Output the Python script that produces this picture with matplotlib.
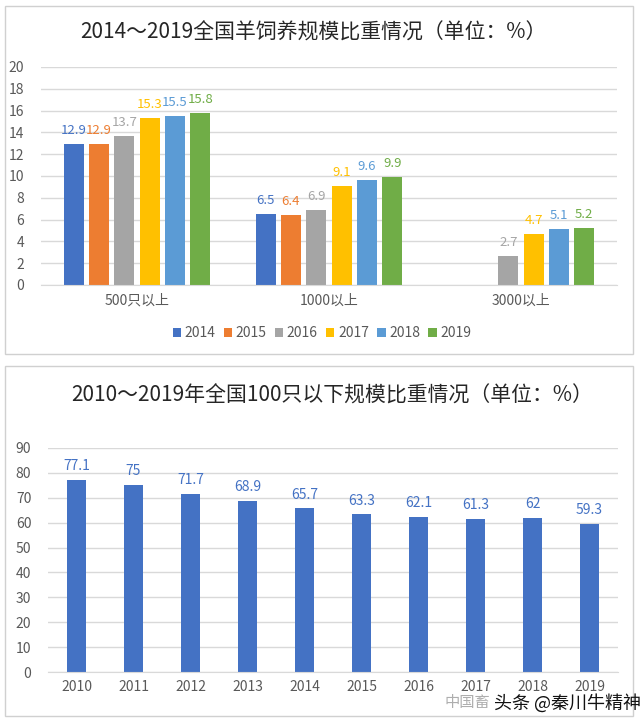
import numpy as np
import matplotlib.pyplot as plt
from matplotlib.patches import Rectangle

plt.rcParams['font.family'] = ['Noto Sans CJK SC', 'DejaVu Sans']

# top chart data
groups = ["500只以上", "1000以上", "3000以上"]
years_top = ["2014", "2015", "2016", "2017", "2018", "2019"]
v2014 = [12.9, 6.5, np.nan]
v2015 = [12.9, 6.4, np.nan]
v2016 = [13.7, 6.9, 2.7]
v2017 = [15.3, 9.1, 4.7]
v2018 = [15.5, 9.6, 5.1]
v2019 = [15.8, 9.9, 5.2]
top_series = [v2014, v2015, v2016, v2017, v2018, v2019]
colors = ["#4472C4", "#ED7D31", "#A5A5A5", "#FFC000", "#5B9BD5", "#70AD47"]

# bottom chart data
years_bot = ["2010", "2011", "2012", "2013", "2014", "2015", "2016", "2017", "2018", "2019"]
small_share = [77.1, 75, 71.7, 68.9, 65.7, 63.3, 62.1, 61.3, 62, 59.3]
small_labels = ["77.1", "75", "71.7", "68.9", "65.7", "63.3", "62.1", "61.3", "62", "59.3"]

W, H = 640, 723
fig = plt.figure(figsize=(W / 100, H / 100), dpi=100)
fig.patch.set_facecolor("white")

def fx(px):
    return px / W

def fy(py):
    return 1 - py / H

# panel frames
for top, bot in [(6, 354), (366, 716)]:
    fig.patches.append(Rectangle((fx(5), fy(bot)), fx(628), (bot - top) / H,
                                 transform=fig.transFigure, fill=False,
                                 ec="#D0D0D0", lw=1))

tick_c = "#595959"
grid_c = "#D9D9D9"

def style(ax):
    for s in ["top", "right", "left"]:
        ax.spines[s].set_visible(False)
    ax.spines["bottom"].set_color(grid_c)
    ax.tick_params(length=0, colors=tick_c, labelsize=10)
    ax.yaxis.grid(True, color=grid_c, lw=1)
    ax.set_axisbelow(True)

# ---- top chart
ax1 = fig.add_axes([fx(41), fy(285), fx(576), (285 - 67) / H])
x = np.arange(len(groups))
pitch = 0.132
for i, (vals, c) in enumerate(zip(top_series, colors)):
    xs = x + (i - 2.5) * pitch
    ax1.bar(xs, vals, width=0.104, color=c, label=years_top[i])
    for xi, v in zip(xs, vals):
        if not np.isnan(v):
            ax1.annotate(f"{v}", (xi, v), xytext=(0, 5), textcoords="offset points",
                         ha="center", va="bottom", color=c, fontsize=9.5)
ax1.set_ylim(0, 20)
ax1.set_yticks(range(0, 21, 2))
ax1.set_xlim(-0.5, 2.5)
ax1.set_xticks(x)
ax1.set_xticklabels(groups)
style(ax1)
ax1.tick_params(axis="x", pad=6)
ax1.tick_params(axis="y", pad=12)
ax1.legend(loc="center", bbox_to_anchor=(fx(322), fy(333)), bbox_transform=fig.transFigure,
           ncol=6, frameon=False, fontsize=10, handlelength=0.6, handleheight=0.6,
           handletextpad=0.25, columnspacing=0.6, labelcolor=tick_c)
fig.text(fx(313), fy(33), "2014～2019全国羊饲养规模比重情况（单位：%）",
         ha="center", va="center", fontsize=15, color="#262626")

# ---- bottom chart
ax2 = fig.add_axes([fx(48), fy(672), fx(570), (672 - 448) / H])
xb = np.arange(len(years_bot))
ax2.bar(xb, small_share, width=0.32, color="#4472C4")
for xi, v, lab in zip(xb, small_share, small_labels):
    ax2.annotate(lab, (xi, v), xytext=(0, 5), textcoords="offset points",
                 ha="center", va="bottom", color="#4472C4", fontsize=10)
ax2.set_ylim(0, 90)
ax2.set_yticks(range(0, 91, 10))
ax2.set_xlim(-0.5, 9.5)
ax2.set_xticks(xb)
ax2.set_xticklabels(years_bot)
style(ax2)
ax2.tick_params(axis="x", pad=6)
ax2.tick_params(axis="y", pad=12)
fig.text(fx(332), fy(396), "2010～2019年全国100只以下规模比重情况（单位：%）",
         ha="center", va="center", fontsize=15, color="#262626")

# watermark
fig.text(fx(445), fy(703), "中国畜", ha="left", va="center",
         fontsize=11, color="#9A9A9A", alpha=0.8)
fig.text(fx(494), fy(703), "头条 @秦川牛精神", ha="left", va="center",
         fontsize=13, color="#111111")

fig.savefig("out.png", dpi=100)
